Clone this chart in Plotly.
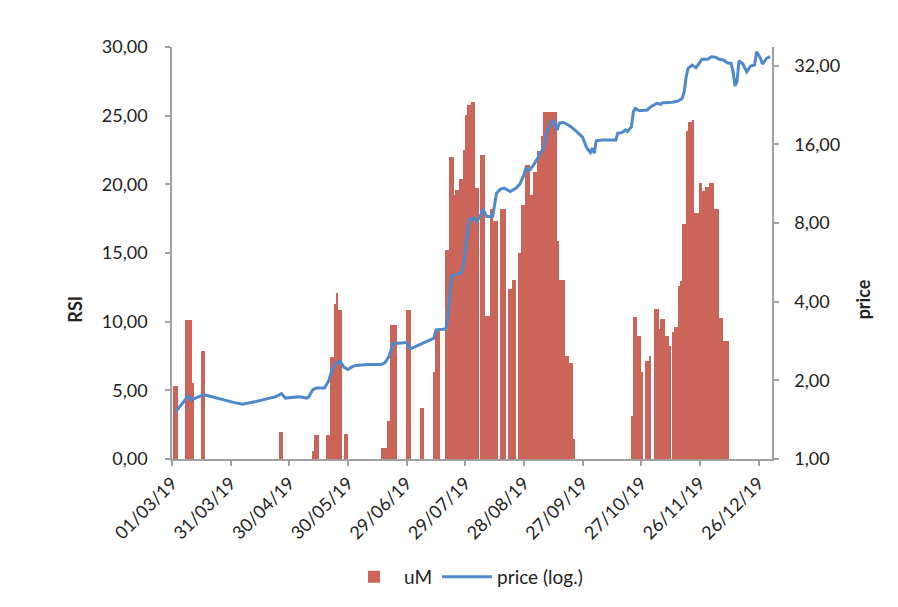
import plotly.graph_objects as go

# ---- uM (RSI) daily bars ----
um_dates = [
    "2019-03-02", "2019-03-03", "2019-03-08", "2019-03-09", "2019-03-10", "2019-03-11", "2019-03-16", "2019-03-17",
    "2019-04-25", "2019-04-26",
    "2019-05-12", "2019-05-13", "2019-05-14", "2019-05-19", "2019-05-20", "2019-05-21", "2019-05-22", "2019-05-23",
    "2019-05-24", "2019-05-25", "2019-05-26", "2019-05-28", "2019-05-29",
    "2019-06-16", "2019-06-17", "2019-06-18", "2019-06-19", "2019-06-20", "2019-06-21", "2019-06-22", "2019-06-23",
    "2019-06-29", "2019-06-30",
    "2019-07-06", "2019-07-07", "2019-07-13", "2019-07-14", "2019-07-15", "2019-07-19", "2019-07-20", "2019-07-21",
    "2019-07-22", "2019-07-23", "2019-07-24", "2019-07-25", "2019-07-26", "2019-07-27", "2019-07-28", "2019-07-29",
    "2019-07-30", "2019-07-31",
    "2019-08-01", "2019-08-02", "2019-08-03", "2019-08-04", "2019-08-06", "2019-08-07", "2019-08-08", "2019-08-09",
    "2019-08-10", "2019-08-11", "2019-08-12", "2019-08-13", "2019-08-14", "2019-08-16", "2019-08-17", "2019-08-18",
    "2019-08-20", "2019-08-21", "2019-08-22", "2019-08-23", "2019-08-25", "2019-08-26", "2019-08-27", "2019-08-28",
    "2019-08-29", "2019-08-30", "2019-08-31",
    "2019-09-01", "2019-09-02", "2019-09-03", "2019-09-04", "2019-09-05", "2019-09-06", "2019-09-07", "2019-09-08",
    "2019-09-09", "2019-09-10", "2019-09-11", "2019-09-12", "2019-09-13", "2019-09-14", "2019-09-15", "2019-09-16",
    "2019-09-17", "2019-09-18", "2019-09-19", "2019-09-20", "2019-09-21", "2019-09-22",
    "2019-10-22", "2019-10-23", "2019-10-24", "2019-10-25", "2019-10-26", "2019-10-27", "2019-10-29", "2019-10-30",
    "2019-10-31",
    "2019-11-03", "2019-11-04", "2019-11-05", "2019-11-06", "2019-11-07", "2019-11-08", "2019-11-09", "2019-11-10",
    "2019-11-12", "2019-11-13", "2019-11-14", "2019-11-15", "2019-11-16", "2019-11-17", "2019-11-18", "2019-11-19",
    "2019-11-20", "2019-11-21", "2019-11-22", "2019-11-23", "2019-11-24", "2019-11-25", "2019-11-26", "2019-11-27",
    "2019-11-28", "2019-11-29", "2019-11-30",
    "2019-12-01", "2019-12-02", "2019-12-03", "2019-12-04", "2019-12-05", "2019-12-06", "2019-12-07", "2019-12-08",
    "2019-12-09", "2019-12-10",
]
um_values = [
    5.3, 5.3, 10.1, 10.1, 10.1, 5.5, 7.85, 7.85,
    1.95, 1.95,
    0.56, 1.74, 1.74, 1.74, 1.74, 7.46, 7.46, 11.26,
    12.06, 10.84, 10.84, 1.82, 1.82,
    0.8, 0.8, 0.8, 2.78, 2.78, 9.76, 9.76, 9.76,
    10.85, 10.85,
    3.7, 3.7, 6.3, 9.45, 9.45, 15.25, 15.25, 22.0,
    22.0, 19.25, 19.6, 19.6, 20.4, 20.4, 22.5, 25.05,
    25.8, 25.8,
    26.0, 26.0, 19.75, 19.75, 22.15, 22.15, 10.4, 10.4,
    10.4, 18.2, 17.3, 17.3, 17.3, 18.2, 18.2, 18.2,
    12.35, 12.35, 13.0, 13.0, 15.0, 15.0, 18.5, 18.5,
    21.4, 21.4, 19.2,
    19.2, 20.9, 20.9, 22.4, 22.4, 23.5, 25.3, 25.3,
    25.3, 25.3, 25.3, 25.3, 25.3, 15.85, 13.07, 13.07,
    13.07, 7.5, 7.5, 7.0, 7.0, 1.45,
    3.1, 10.36, 10.36, 8.95, 8.95, 6.34, 7.14, 7.14,
    7.5,
    10.94, 10.94, 9.44, 10.2, 10.2, 8.95, 8.95, 8.23,
    9.27, 9.6, 9.6, 12.6, 12.95, 17.1, 17.1, 23.85,
    24.57, 24.57, 24.7, 17.9, 17.9, 17.9, 20.1, 19.5,
    19.5, 19.8, 19.8,
    20.1, 20.1, 18.2, 18.2, 18.2, 10.3, 10.3, 8.6,
    8.6, 8.6,
]

# ---- price (log scale) ----
price_dates = [
    "2019-03-03", "2019-03-06", "2019-03-09", "2019-03-10", "2019-03-11", "2019-03-13", "2019-03-17", "2019-03-19",
    "2019-03-25", "2019-04-01", "2019-04-06", "2019-04-08", "2019-04-13", "2019-04-20", "2019-04-23", "2019-04-26",
    "2019-04-28", "2019-05-05", "2019-05-09", "2019-05-10", "2019-05-12", "2019-05-14", "2019-05-18", "2019-05-20",
    "2019-05-22", "2019-05-24", "2019-05-26", "2019-05-27", "2019-05-28", "2019-05-30", "2019-06-01", "2019-06-03",
    "2019-06-09", "2019-06-16", "2019-06-18", "2019-06-20", "2019-06-22", "2019-06-26", "2019-06-29", "2019-06-30",
    "2019-07-01", "2019-07-04", "2019-07-07", "2019-07-11", "2019-07-13", "2019-07-14", "2019-07-19", "2019-07-20",
    "2019-07-22", "2019-07-24", "2019-07-27", "2019-07-28", "2019-07-30", "2019-07-31", "2019-08-02", "2019-08-04",
    "2019-08-06", "2019-08-07", "2019-08-09", "2019-08-12", "2019-08-14", "2019-08-16", "2019-08-18", "2019-08-21",
    "2019-08-24", "2019-08-26", "2019-08-28", "2019-08-29", "2019-08-31", "2019-09-02", "2019-09-04", "2019-09-05",
    "2019-09-07", "2019-09-08", "2019-09-09", "2019-09-11", "2019-09-12", "2019-09-13", "2019-09-14", "2019-09-15",
    "2019-09-17", "2019-09-19", "2019-09-21", "2019-09-24", "2019-09-26", "2019-09-27", "2019-09-29", "2019-10-01",
    "2019-10-02", "2019-10-03", "2019-10-04", "2019-10-07", "2019-10-14", "2019-10-15", "2019-10-17", "2019-10-19",
    "2019-10-20", "2019-10-22", "2019-10-23", "2019-10-24", "2019-10-26", "2019-10-30", "2019-11-01", "2019-11-04",
    "2019-11-06", "2019-11-07", "2019-11-12", "2019-11-15", "2019-11-17", "2019-11-18", "2019-11-19", "2019-11-20",
    "2019-11-22", "2019-11-24", "2019-11-25", "2019-11-27", "2019-11-30", "2019-12-02", "2019-12-04", "2019-12-06",
    "2019-12-08", "2019-12-10", "2019-12-12", "2019-12-13", "2019-12-14", "2019-12-15", "2019-12-16", "2019-12-18",
    "2019-12-20", "2019-12-22", "2019-12-24", "2019-12-25", "2019-12-27", "2019-12-28", "2019-12-29", "2019-12-30",
    "2020-01-01",
]
price_values = [
    1.52, 1.62, 1.73, 1.73, 1.68, 1.71, 1.76, 1.75,
    1.70, 1.65, 1.62, 1.63, 1.66, 1.71, 1.73, 1.78,
    1.71, 1.73, 1.71, 1.73, 1.84, 1.87, 1.87, 1.98,
    2.20, 2.33, 2.36, 2.30, 2.24, 2.20, 2.25, 2.28,
    2.30, 2.30, 2.34, 2.47, 2.76, 2.78, 2.79, 2.72,
    2.64, 2.70, 2.76, 2.84, 2.90, 3.12, 3.14, 3.41,
    5.02, 5.07, 5.17, 5.45, 7.10, 8.22, 8.35, 8.10,
    8.59, 9.03, 8.46, 8.46, 10.40, 10.77, 10.87, 10.55,
    10.87, 11.28, 12.21, 12.95, 12.76, 13.34, 14.15, 14.56,
    15.45, 16.62, 17.88, 19.52, 19.64, 18.96, 18.14, 19.25,
    19.42, 19.08, 18.68, 17.88, 17.21, 17.02, 15.56, 14.86,
    15.45, 14.78, 16.50, 16.62, 16.62, 17.63, 17.72, 18.14,
    17.88, 18.68, 21.31, 21.96, 21.50, 21.63, 22.27, 22.95,
    22.75, 23.07, 23.15, 23.42, 23.98, 25.42, 29.0, 31.22,
    32.14, 31.39, 32.14, 33.80, 33.85, 34.58, 34.40, 33.80,
    33.59, 32.80, 32.60, 30.3, 26.72, 27.75, 33.38, 32.43,
    30.3, 31.86, 32.14, 36.13, 34.09, 32.43, 33.09, 34.09,
    34.58,
]

# ---- axes ----
x_range = ["2019-03-01", "2020-01-01 21:36"]
x_tick0 = "2019-03-01"
rsi_ticks = [0, 5, 10, 15, 20, 25, 30]
price_ticks = [1, 2, 4, 8, 16, 32]

DAY_MS = 86400000
AXIS_COLOR = "#A0A0A0"
BAR_COLOR = "#CB6559"
LINE_COLOR = "#5089CA"
FONT = "Lato"

fig = go.Figure()
fig.add_trace(go.Bar(
    x=um_dates, y=um_values, name="uM",
    marker=dict(color=BAR_COLOR, line=dict(width=0)),
    xperiod=DAY_MS, xperiodalignment="middle", width=DAY_MS,
))
fig.add_trace(go.Scatter(
    x=price_dates, y=price_values, name="price (log.)", mode="lines",
    line=dict(color=LINE_COLOR, width=3), yaxis="y2",
))

common_axis = dict(showline=True, linecolor=AXIS_COLOR, linewidth=1.5, ticks="outside",
                   ticklen=5, tickcolor=AXIS_COLOR, tickwidth=1.5, showgrid=False, zeroline=False)

# page body has an 8px default margin, so the figure is 890x599 and margins are shifted
fig.update_layout(
    width=890, height=599,
    margin=dict(l=164, r=126, t=39, b=147),
    plot_bgcolor="white", paper_bgcolor="white",
    separators=",.",
    font=dict(family=FONT, size=18, color="#222222"),
    bargap=0,
    showlegend=True,
    legend=dict(orientation="h", x=0.49, xanchor="center", y=-0.283, yanchor="middle",
                font=dict(size=19), itemwidth=50),
    xaxis=dict(type="date", range=x_range, tick0=x_tick0, dtick=30 * DAY_MS,
               tickformat="%d/%m/%y", tickangle=-45, **common_axis),
    yaxis=dict(range=[0, 30], tickvals=rsi_ticks, tickformat=".2f",
               ticklabelstandoff=14, **common_axis),
    yaxis2=dict(type="log", overlaying="y", side="right", range=[0, 1.576],
                tickvals=price_ticks, tickformat=".2f", ticklabelstandoff=12, **common_axis),
    annotations=[
        dict(text="<b>RSI</b>", x=-0.183, y=0.363, xref="paper", yref="paper",
             textangle=-90, showarrow=False, font=dict(size=18)),
        dict(text="<b>price</b>", x=1.173, y=0.387, xref="paper", yref="paper",
             textangle=-90, showarrow=False, font=dict(size=18)),
    ],
)

fig.write_html("out.html")
